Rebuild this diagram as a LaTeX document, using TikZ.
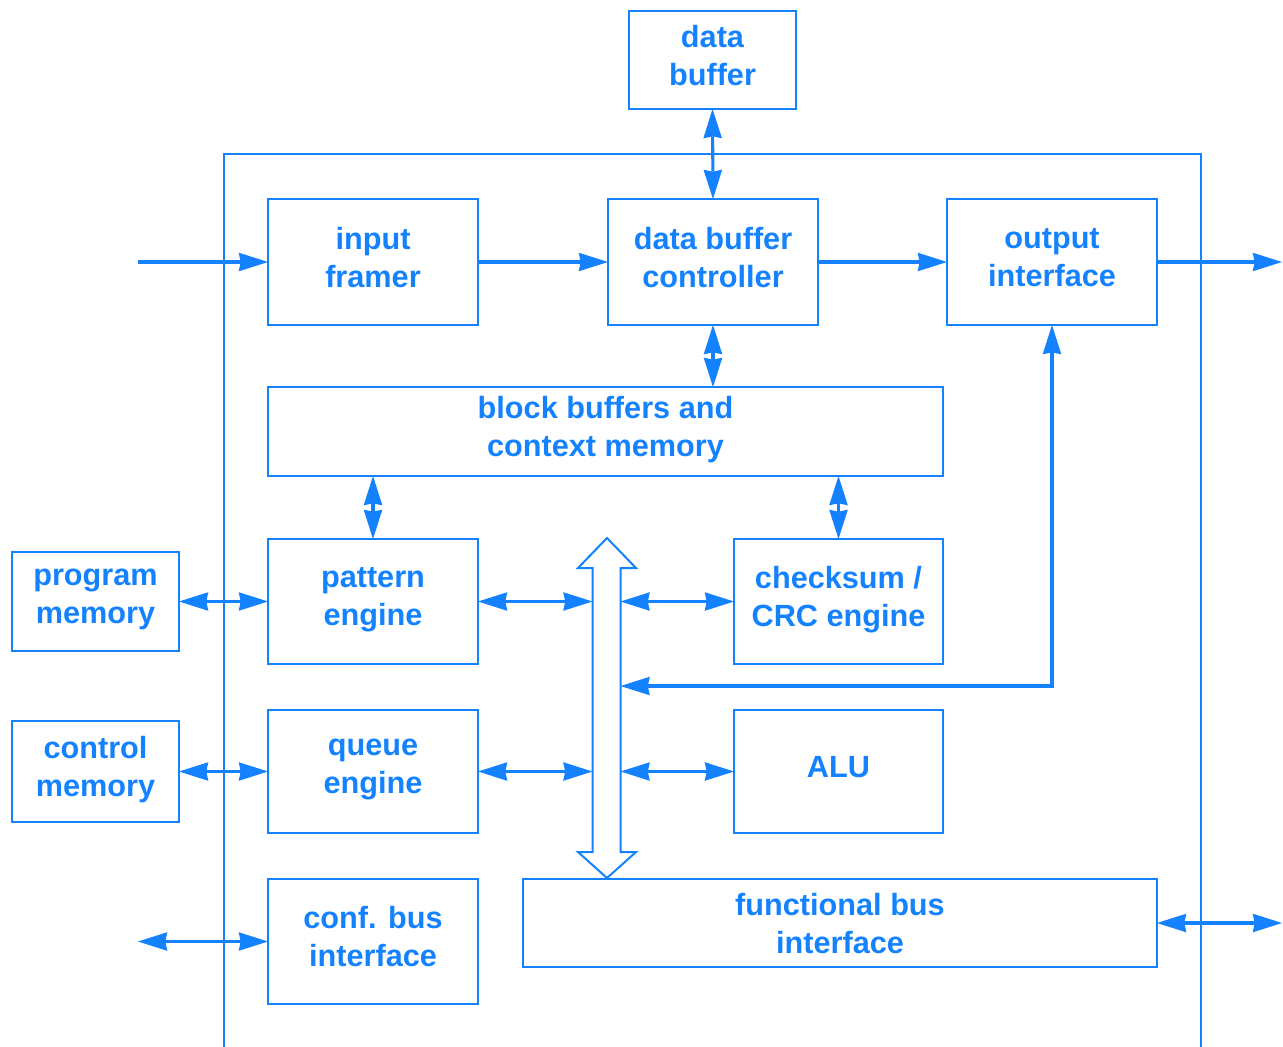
\documentclass[tikz,border=0pt]{standalone}
\usepackage{fontspec}
\setmainfont{Liberation Sans}
\usetikzlibrary{arrows.meta}
\definecolor{blu}{RGB}{20,130,255}
\begin{document}
\begin{tikzpicture}[x=0.75pt,y=-0.75pt,
  >={Stealth[length=22pt,width=14pt,inset=1.5pt,line width=0pt]},
  box/.style={draw=blu,line width=1.5pt,inner sep=0pt,outer sep=0pt,
    text=blu,align=center,text depth=7.5pt,
    font=\fontsize{23}{28.5}\selectfont\bfseries},
  arr/.style={draw=blu,line width=2.3pt,<->},
  oneway/.style={draw=blu,line width=2.3pt,->}]
\useasboundingbox (0,0) rectangle (1283,1047);

% chip outline, open at the bottom
\draw[blu,line width=1.5pt] (224,1047) -- (224,154) -- (1201,154) -- (1201,1047);

% blocks
\node[box,minimum width=125.25pt,minimum height=73.5pt] (dbuf) at (712.5,60) {data\\buffer};
\node[box,minimum width=157.5pt,minimum height=94.5pt] (frame) at (373,262) {input\\framer};
\node[box,minimum width=157.5pt,minimum height=94.5pt] (dbc) at (713,262) {data buffer\\controller};
\node[box,minimum width=157.5pt,minimum height=94.5pt] (out) at (1052,262) {output\\interface};
\node[box,minimum width=506.25pt,minimum height=66.75pt] (blk) at (605.5,431.5) {block buffers and\\context memory};
\node[box,minimum width=157.5pt,minimum height=93.75pt] (pat) at (373,601.5) {pattern\\engine};
\node[box,minimum width=156.75pt,minimum height=93.75pt] (crc) at (838.5,601.5) {checksum /\\CRC engine};
\node[box,minimum width=157.5pt,minimum height=92.25pt] (que) at (373,771.5) {queue\\engine};
\node[box,minimum width=156.75pt,minimum height=92.25pt] (alu) at (838.5,771.5) {ALU};
\node[box,minimum width=125.25pt,minimum height=74.25pt] (pmem) at (95.5,601.5) {program\\memory};
\node[box,minimum width=125.25pt,minimum height=75.75pt] (cmem) at (95.5,771.5) {control\\memory};
\node[box,minimum width=157.5pt,minimum height=93.75pt] (conf) at (373,941.5) {conf. bus\\interface};
\node[box,text depth=0pt,minimum width=475.5pt,minimum height=66pt] (fbus) at (840,923) {functional bus\\interface};

% internal bus (hollow double arrow)
\draw[blu,line width=1.5pt,fill=white,line join=miter]
  (607,538) -- (636,568) -- (620.5,568) -- (620.5,852) -- (636,852) -- (607,878)
  -- (578,852) -- (592.5,852) -- (592.5,568) -- (578,568) -- cycle;
\coordinate (busL) at (592.5,700);
\coordinate (busR) at (620.5,700);
\coordinate (tap) at (620.5,686);

% outside terminals
\coordinate (inp) at (138,262);
\coordinate (outp) at (1282,262);
\coordinate (confp) at (138,941.5);
\coordinate (fbusp) at (1282,923);

% data path
\draw[oneway] (inp) -- (frame.west);
\draw[oneway] (frame.east) -- (dbc.west);
\draw[oneway] (dbc.east) -- (out.west);
\draw[oneway] (out.east) -- (outp);
\draw[arr] (dbuf.south) -- (dbc.north);
\draw[arr] (dbc.south) -- (dbc.south |- blk.north);
\draw[arr] (blk.south -| pat.north) -- (pat.north);
\draw[arr] (blk.south -| crc.north) -- (crc.north);

% memories
\draw[arr] (pmem.east) -- (pat.west);
\draw[arr] (cmem.east) -- (que.west);

% bus connections
\draw[arr] (pat.east) -- (pat.east -| busL);
\draw[arr] (busR |- crc.west) -- (crc.west);
\draw[arr] (que.east) -- (que.east -| busL);
\draw[arr] (busR |- alu.west) -- (alu.west);
\draw[arr] (out.south) |- (tap);

% external interfaces
\draw[arr] (confp) -- (conf.west);
\draw[arr] (fbus.east) -- (fbusp);
\end{tikzpicture}
\end{document}
